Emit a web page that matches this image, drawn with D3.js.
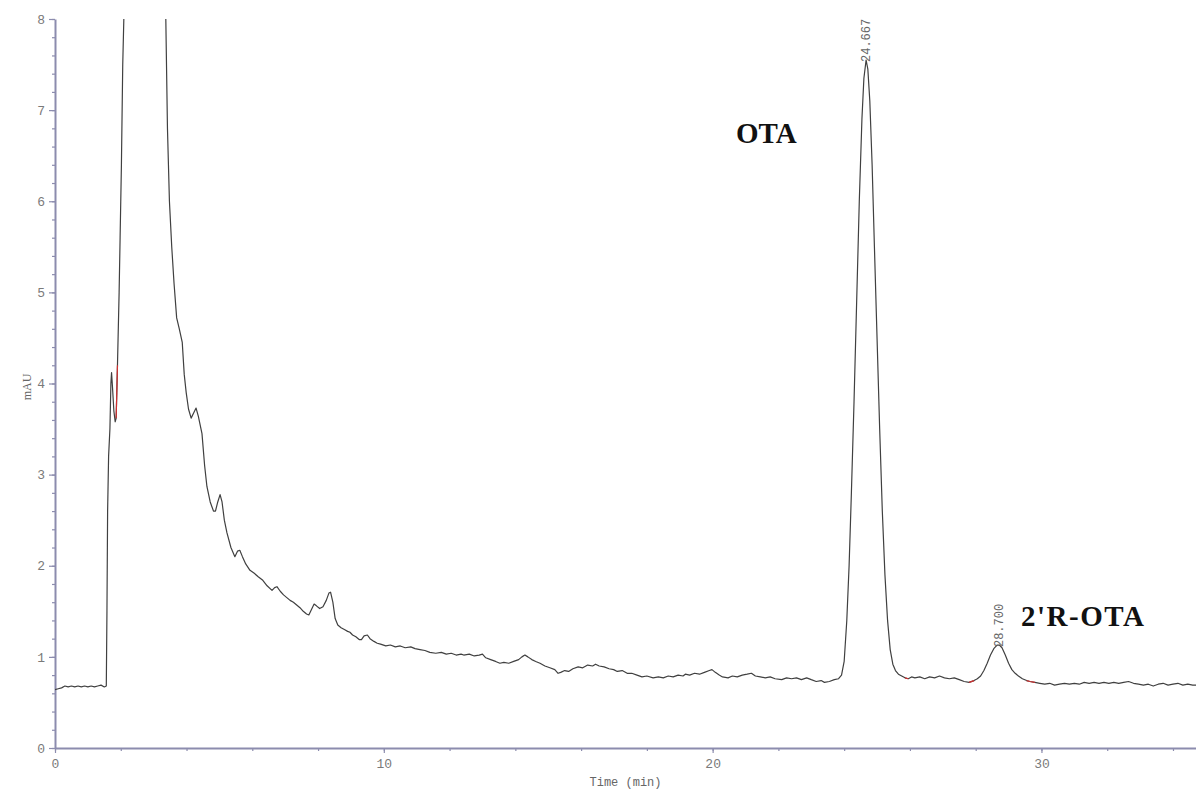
<!DOCTYPE html>
<html>
<head>
<meta charset="utf-8">
<script src="https://cdn.jsdelivr.net/npm/d3@7"></script>
<style>
  body { margin: 0; background: #fff; }
  svg { display: block; }
</style>
</head>
<body>
<div id="chart"></div>
<script>
// chromatogram, [time (min), mAU]
const startBaseline = [
  [0.0,0.64],[0.1,0.65],[0.2,0.66],[0.3,0.68],[0.4,0.67],[0.5,0.68],[0.6,0.67],[0.7,0.68],
  [0.8,0.67],[0.9,0.68],[1.0,0.67],[1.1,0.68],[1.2,0.67],[1.3,0.68],[1.4,0.69],[1.5,0.67],[1.56,0.68]
];
const solventPeak = [
  [1.58,1.5],[1.6,2.6],[1.63,3.2],[1.67,3.5],[1.70,4.0],[1.72,4.12],[1.75,3.95],[1.79,3.7],
  [1.83,3.58],[1.86,3.62],[1.9,4.2],[1.95,5.0],[1.98,5.6],[2.02,6.4],[2.06,7.5],[2.1,8.1],
  [2.2,9.5],[2.5,11],[3.0,11],[3.3,9.0],[3.37,8.0],[3.42,6.8],[3.48,6.0],[3.55,5.5],[3.62,5.1],
  [3.7,4.72],[3.78,4.6],[3.87,4.45],[3.93,4.1],[3.99,3.90],[4.06,3.72],[4.14,3.62],[4.22,3.68],
  [4.29,3.73],[4.36,3.64],[4.47,3.45],[4.55,3.1],[4.62,2.87],[4.72,2.7],[4.82,2.6],[4.88,2.6],
  [4.95,2.7],[5.02,2.78],[5.08,2.7],[5.15,2.5],[5.23,2.36],[5.35,2.2],[5.47,2.10],[5.55,2.16],
  [5.62,2.17],[5.7,2.1],[5.8,2.02],[5.93,1.95],[6.05,1.92],[6.18,1.88],[6.32,1.84],[6.45,1.78],
  [6.6,1.73],[6.68,1.76],[6.75,1.77],[6.85,1.72],[6.95,1.68],[7.05,1.65],[7.15,1.62],[7.25,1.6],
  [7.35,1.57],[7.45,1.54],[7.55,1.5],[7.65,1.47],[7.72,1.46],[7.8,1.52],[7.88,1.58],[7.95,1.56],
  [8.05,1.53],[8.15,1.55],[8.25,1.62],[8.33,1.70],[8.38,1.71],[8.45,1.6],[8.52,1.42],[8.6,1.35],
  [8.7,1.32],[8.8,1.30],[8.9,1.28],[8.97,1.27],[9.05,1.24],[9.15,1.22],[9.25,1.19],[9.32,1.19],
  [9.4,1.23],[9.5,1.24],[9.58,1.2],[9.7,1.17],[9.8,1.15],[9.9,1.14],[10.06,1.12]
];
const tail = [
  [10.2,1.13],[10.35,1.11],[10.5,1.12],[10.65,1.10],[10.82,1.11],[10.95,1.09],[11.1,1.08],
  [11.25,1.07],[11.4,1.05],[11.58,1.04],[11.75,1.05],[11.9,1.03],[12.05,1.04],[12.2,1.02],
  [12.35,1.03],[12.43,1.02],[12.6,1.03],[12.75,1.01],[12.9,1.02],[13.0,1.03],[13.1,0.99],
  [13.25,0.97],[13.4,0.95],[13.53,0.93],[13.65,0.94],[13.8,0.93],[13.95,0.95],[14.1,0.97],
  [14.2,1.0],[14.29,1.02],[14.38,1.0],[14.5,0.97],[14.62,0.95],[14.75,0.93],[14.9,0.9],
  [15.05,0.88],[15.2,0.86],[15.3,0.82],[15.38,0.83],[15.5,0.85],[15.62,0.84],[15.75,0.87],
  [15.91,0.89],[16.05,0.88],[16.2,0.91],[16.35,0.90],[16.44,0.92],[16.55,0.9],[16.7,0.89],
  [16.85,0.87],[16.99,0.86],[17.1,0.84],[17.25,0.85],[17.4,0.82],[17.54,0.82],[17.7,0.80],
  [17.85,0.78],[18.0,0.79],[18.19,0.77],[18.35,0.78],[18.5,0.77],[18.65,0.79],[18.8,0.78],
  [18.95,0.80],[19.1,0.79],[19.17,0.81],[19.3,0.80],[19.45,0.82],[19.6,0.81],[19.75,0.83],
  [19.9,0.85],[19.98,0.86],[20.08,0.83],[20.2,0.80],[20.3,0.78],[20.47,0.77],[20.6,0.79],
  [20.75,0.78],[20.9,0.80],[21.05,0.81],[21.18,0.82],[21.3,0.79],[21.45,0.78],[21.6,0.77],
  [21.75,0.78],[21.9,0.76],[22.1,0.75],[22.25,0.77],[22.4,0.76],[22.55,0.77],[22.7,0.75],
  [22.86,0.77],[23.0,0.75],[23.15,0.73],[23.3,0.74],[23.4,0.72],[23.55,0.73],[23.7,0.75],
  [23.83,0.76],[23.92,0.8]
];
const otaPeak = [
  [24.0,0.95],[24.08,1.4],[24.15,2.0],[24.22,2.8],[24.3,3.8],[24.38,4.9],[24.46,6.0],
  [24.54,6.9],[24.6,7.35],[24.667,7.55],[24.72,7.45],[24.78,7.1],[24.85,6.4],[24.92,5.5],
  [25.0,4.5],[25.08,3.5],[25.16,2.6],[25.24,1.9],[25.32,1.4],[25.4,1.08],[25.48,0.92],
  [25.56,0.85],[25.65,0.81],[25.75,0.79]
];
const midBaseline = [
  [25.85,0.77],[25.95,0.76],[26.05,0.78],[26.15,0.77],[26.3,0.78],[26.45,0.76],[26.6,0.78],
  [26.75,0.77],[26.9,0.79],[27.05,0.77],[27.2,0.76],[27.35,0.77],[27.5,0.75],[27.65,0.73],
  [27.8,0.72],[27.95,0.74],[28.05,0.76],[28.15,0.79]
];
const rotaPeak = [
  [28.25,0.85],[28.35,0.93],[28.45,1.02],[28.55,1.09],[28.65,1.13],[28.72,1.13],[28.8,1.10],
  [28.9,1.02],[29.0,0.93],[29.1,0.86],[29.2,0.82],[29.3,0.79],[29.42,0.76],[29.55,0.74],[29.65,0.73]
];
const endBaseline = [
  [29.8,0.72],[29.95,0.71],[30.1,0.70],[30.25,0.71],[30.4,0.69],[30.55,0.70],[30.7,0.71],
  [30.85,0.70],[31.0,0.71],[31.15,0.70],[31.3,0.72],[31.45,0.71],[31.6,0.72],[31.75,0.71],
  [31.9,0.72],[32.05,0.71],[32.2,0.72],[32.35,0.71],[32.5,0.72],[32.65,0.73],[32.8,0.71],
  [32.95,0.70],[33.1,0.69],[33.25,0.70],[33.4,0.68],[33.55,0.70],[33.7,0.71],[33.85,0.69],
  [34.0,0.70],[34.15,0.71],[34.3,0.69],[34.45,0.70],[34.6,0.69],[34.7,0.69]
];

// integration marks (drawn red) as time ranges
const redMarks = [[1.84, 1.9], [25.8, 25.95], [27.75, 28.0], [29.55, 29.8]];

const peakLabels = [
  { time: 24.667, value: 7.55, text: "24.667" },
  { time: 28.700, value: 1.13, text: "28.700" }
];
const compoundLabels = [
  { text: "OTA", x: 736, y: 143, spacing: 0 },
  { text: "2'R-OTA", x: 1021, y: 626, spacing: 1.5 }
];

const xMajor = [0, 10, 20, 30];
const yMajor = [0, 1, 2, 3, 4, 5, 6, 7, 8];

const width = 1196;
const height = 792;
const margin = { top: 19, right: 0, bottom: 44, left: 55 };

const series = [].concat(startBaseline, solventPeak, tail, otaPeak, midBaseline, rotaPeak, endBaseline);

const svg = d3.select("#chart")
    .append("svg")
    .attr("width", width)
    .attr("height", height);

const x = d3.scaleLinear()
    .domain([0, 34.7])
    .range([margin.left, width - margin.right]);

const y = d3.scaleLinear()
    .domain([0, 8])
    .range([height - margin.bottom, margin.top]);

svg.append("clipPath")
    .attr("id", "plot-clip")
    .append("rect")
    .attr("x", margin.left)
    .attr("y", margin.top)
    .attr("width", width - margin.left - margin.right)
    .attr("height", y(0) - margin.top);

const axisColor = "#8c8cae";
const labelColor = "#7a7a7a";

// x axis: minor ticks every 2 min, labelled every 10
const xMinor = svg.append("g")
    .attr("transform", `translate(0,${y(0)})`)
    .call(d3.axisBottom(x).tickValues(d3.range(0, 34.7, 2)).tickSize(3).tickFormat(""));
xMinor.select(".domain").remove();

const xAxis = svg.append("g")
    .attr("transform", `translate(0,${y(0)})`)
    .call(d3.axisBottom(x).tickValues(xMajor).tickSize(5).tickPadding(6).tickSizeOuter(0));

// y axis: minor ticks every 0.2, labelled every 1
const yMinor = svg.append("g")
    .attr("transform", `translate(${margin.left},0)`)
    .call(d3.axisLeft(y).tickValues(d3.range(0, 8.01, 0.2)).tickSize(3).tickFormat(""));
yMinor.select(".domain").remove();

const yAxis = svg.append("g")
    .attr("transform", `translate(${margin.left},0)`)
    .call(d3.axisLeft(y).tickValues(yMajor).tickSize(6).tickPadding(4).tickSizeOuter(0));

[xMinor, xAxis, yMinor, yAxis].forEach(g => {
  g.selectAll("line").attr("stroke", axisColor).attr("stroke-width", 1.2);
  g.select(".domain").attr("stroke", axisColor).attr("stroke-width", 2);
  g.selectAll("text")
      .attr("fill", labelColor)
      .style("font-family", "'Liberation Mono', monospace")
      .style("font-size", "13px");
});

svg.append("text")
    .attr("x", (x.range()[0] + x.range()[1]) / 2)
    .attr("y", 786)
    .attr("text-anchor", "middle")
    .attr("fill", "#666")
    .style("font-family", "'Liberation Mono', monospace")
    .style("font-size", "12px")
    .text("Time (min)");

svg.append("text")
    .attr("transform", `translate(31,387) rotate(-90)`)
    .attr("text-anchor", "middle")
    .attr("fill", "#666")
    .style("font-family", "'Liberation Serif', serif")
    .style("font-size", "12px")
    .text("mAU");

const line = d3.line()
    .x(d => x(d[0]))
    .y(d => y(d[1]));

svg.append("path")
    .datum(series)
    .attr("clip-path", "url(#plot-clip)")
    .attr("fill", "none")
    .attr("stroke", "#404040")
    .attr("stroke-width", 1.2)
    .attr("stroke-linejoin", "round")
    .attr("d", line);

svg.append("g")
    .attr("clip-path", "url(#plot-clip)")
    .selectAll("path")
    .data(redMarks)
    .join("path")
    .attr("fill", "none")
    .attr("stroke", "#d03030")
    .attr("stroke-width", 1.2)
    .attr("d", r => line(series.filter(d => d[0] >= r[0] && d[0] <= r[1])));

svg.append("g")
    .selectAll("text")
    .data(peakLabels)
    .join("text")
    .attr("transform", d => `translate(${x(d.time) + 4},${y(d.value) + 2}) rotate(-90)`)
    .attr("fill", "#666")
    .style("font-family", "'Liberation Mono', monospace")
    .style("font-size", "12px")
    .text(d => d.text);

svg.append("g")
    .selectAll("text")
    .data(compoundLabels)
    .join("text")
    .attr("x", d => d.x)
    .attr("y", d => d.y)
    .attr("fill", "#111")
    .style("font-family", "'Liberation Serif', 'Times New Roman', serif")
    .style("font-weight", "bold")
    .style("font-size", "29px")
    .style("letter-spacing", d => `${d.spacing}px`)
    .text(d => d.text);
</script>
</body>
</html>
